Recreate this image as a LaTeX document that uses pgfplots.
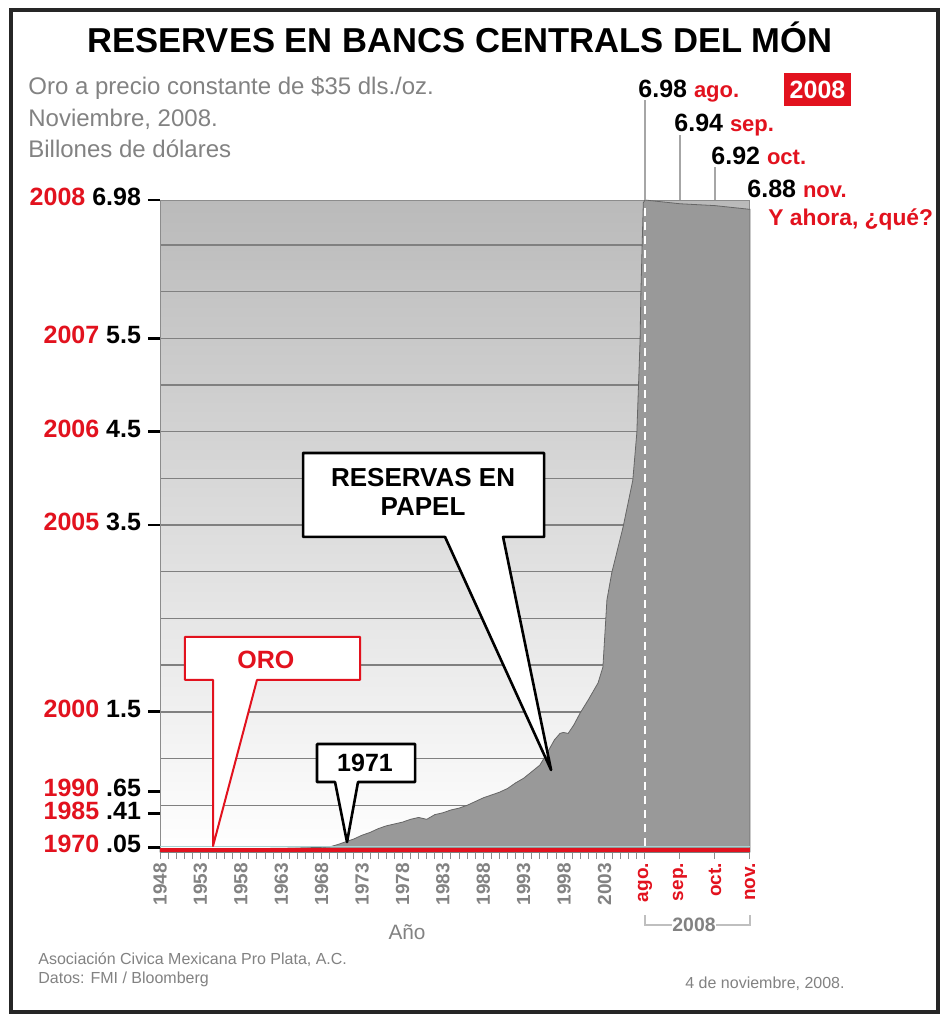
\documentclass[border=0pt]{standalone}
\usepackage{fontspec}
\setmainfont{Liberation Sans}
\usepackage{pgfplots}
\pgfplotsset{compat=1.18}
\definecolor{myred}{RGB}{226,18,30}
\definecolor{txtgray}{RGB}{130,130,130}
\definecolor{areagray}{RGB}{153,153,153}
\newcommand{\fs}[1]{\fontsize{#1}{#1}\selectfont}
\begin{document}
\begin{tikzpicture}[x=0.5pt,y=0.5pt]
\useasboundingbox (0,0) rectangle (950,-1016);
\fill[white] (0,0) rectangle (950,-1016);
\begin{axis}[
  at={(80pt,-426pt)}, anchor=south west,
  width=295pt, height=326pt, scale only axis,
  xmin=0, xmax=73, ymin=0, ymax=6.98,
  clip=false,
  axis background/.style={top color=black!27, bottom color=white},
  axis line style={black!45, line width=0.5pt},
  tick align=outside,
  xtick pos=bottom, ytick pos=left,
  major tick length=6pt, minor tick length=3.5pt,
  ytick={0.05,0.41,0.65,1.5,3.5,4.5,5.5,6.98},
  yticklabels={{\textcolor{myred}{1970} .05},{\textcolor{myred}{1985} .41},{\textcolor{myred}{1990} .65},{\textcolor{myred}{2000} 1.5},{\textcolor{myred}{2005} 3.5},{\textcolor{myred}{2006} 4.5},{\textcolor{myred}{2007} 5.5},{\textcolor{myred}{2008} 6.98}},
  major y tick style={black, line width=1.4pt},
  minor ytick={0.5,1,1.5,2,2.5,3,3.5,4,4.5,5,5.5,6,6.5},
  yminorgrids=true, ymajorgrids=false,
  minor y grid style={black!50, line width=0.7pt},
  minor y tick style={draw=none},
  xtick={0,5,10,15,20,25,30,35,40,45,50,55,60,64.33,68.67,73},
  xticklabels={1948,1953,1958,1963,1968,1973,1978,1983,1988,1993,1998,2003,\textcolor{myred}{ago.},\textcolor{myred}{sep.},\textcolor{myred}{oct.},\textcolor{myred}{nov.}},
  major x tick style={draw=none},
  minor xtick={0,1,...,60,64.33,68.67,73},
  minor x tick style={draw=black!45, line width=0.5pt},
  xticklabel shift=-4pt,
  xticklabel style={rotate=90, anchor=east, font=\bfseries\fs{9.5}, text=txtgray},
  yticklabel style={font=\bfseries\fs{12.5}, anchor=east, yshift=1.5pt},
]
\addplot[fill=areagray, draw=black!60, line width=0.4pt] coordinates {
(0,0.03) (5,0.03) (10,0.035) (15,0.04) (18,0.045) (20,0.05) (21,0.055) (22,0.08) (23,0.11) (24,0.14) (25,0.18) (26,0.21) (27,0.25) (28,0.28) (29,0.30) (30,0.32) (31,0.35) (32,0.37) (33,0.35) (34,0.40) (35,0.42) (36,0.45) (37,0.47) (38,0.50) (39,0.54) (40,0.58) (41,0.61) (42,0.64) (43,0.68) (44,0.74) (45,0.79) (46,0.86) (47,0.93) (47.9,1.06) (48.8,1.20) (49.5,1.27) (49.9,1.28) (50.5,1.27) (51.2,1.36) (52.0,1.49) (53.0,1.63) (54.2,1.81) (54.8,1.98) (55.3,2.70) (55.9,2.99) (57.3,3.48) (58.5,3.98) (59.0,4.49) (59.2,4.98) (59.4,5.48) (59.5,5.98) (59.65,6.48) (59.8,6.95) (60,6.98) (64.33,6.94) (68.67,6.92) (73,6.88)
} \closedcycle;
\addplot[teal!35, line width=0.5pt] coordinates {(0,0.06) (73,0.06)};
\addplot[myred, line width=2pt] coordinates {(0,0.02) (73,0.02)};
\draw[white, line width=1pt, dash pattern=on 4pt off 3pt] (axis cs:60,0.06) -- (axis cs:60,6.95);
% month leader lines
\draw[black!35, line width=0.6pt] (axis cs:60,6.98) -- (axis cs:60,8.05);
\draw[black!35, line width=0.6pt] (axis cs:64.33,6.98) -- (axis cs:64.33,7.68);
\draw[black!35, line width=0.6pt] (axis cs:68.67,6.98) -- (axis cs:68.67,7.33);
% callout ORO
\draw[myred, line width=1pt, fill=white, line join=round] (axis cs:3.09,2.302) -- (axis cs:24.75,2.302) -- (axis cs:24.75,1.842) -- (axis cs:12.0,1.842) -- (axis cs:6.56,0.064) -- (axis cs:6.56,1.842) -- (axis cs:3.09,1.842) -- cycle;
\node[text=myred, font=\bfseries\fs{12.5}] at (axis cs:13.1,2.056) {ORO};
% callout 1971
\draw[black, line width=1.3pt, fill=white, line join=round] (axis cs:19.43,1.156) -- (axis cs:31.56,1.156) -- (axis cs:31.56,0.749) -- (axis cs:24.5,0.749) -- (axis cs:23.14,0.107) -- (axis cs:21.66,0.749) -- (axis cs:19.43,0.749) -- cycle;
\node[font=\bfseries\fs{12.5}] at (axis cs:25.37,0.953) {1971};
% callout RESERVAS
\draw[black, line width=1.3pt, fill=white, line join=round] (axis cs:17.70,4.272) -- (axis cs:47.52,4.272) -- (axis cs:47.52,3.373) -- (axis cs:42.45,3.373) -- (axis cs:48.39,0.878) -- (axis cs:35.27,3.373) -- (axis cs:17.70,3.373) -- cycle;
\node[font=\bfseries\fs{13}, align=center] at (axis cs:32.55,3.854) {RESERVAS EN\\[1.5pt]PAPEL};
\end{axis}
% title
\node[font=\bfseries\fs{17.3}, anchor=base] at (460,-53) {RESERVES EN BANCS CENTRALS DEL MÓN};
% subtitle
\node[anchor=base west, text=txtgray, font=\fs{12}, inner sep=0] at (28,-95) {Oro a precio constante de \$35 dls./oz.};
\node[anchor=base west, text=txtgray, font=\fs{12}, inner sep=0] at (28,-127) {Noviembre, 2008.};
\node[anchor=base west, text=txtgray, font=\fs{12}, inner sep=0] at (28,-158) {Billones de dólares};
% top right labels
\node[anchor=base west, inner sep=0] at (638,-98) {\bfseries\fs{12.5}6.98 \textcolor{myred}{\fs{11}ago.}};
\node[anchor=base west, inner sep=0] at (674,-132) {\bfseries\fs{12.5}6.94 \textcolor{myred}{\fs{11}sep.}};
\node[anchor=base west, inner sep=0] at (711,-165) {\bfseries\fs{12.5}6.92 \textcolor{myred}{\fs{11}oct.}};
\node[anchor=base west, inner sep=0] at (747,-198) {\bfseries\fs{12.5}6.88 \textcolor{myred}{\fs{11}nov.}};
\node[fill=myred, text=white, font=\bfseries\fs{12.5}, minimum width=33.5pt, minimum height=16.5pt, inner sep=0] at (817.5,-89.5) {2008};
\node[anchor=base west, text=myred, font=\bfseries\fs{11.4}, inner sep=0] at (768,-226) {Y ahora, ¿qué?};
% x label and bracket
\node[text=txtgray, font=\fs{10.4}] at (407,-932) {Año};
\draw[black!25, line width=0.6pt] (645,-915) -- (645,-925) -- (672,-925);
\draw[black!25, line width=0.6pt] (716,-925) -- (750,-925) -- (750,-915);
\node[text=txtgray, font=\bfseries\fs{9.7}] at (694,-925) {2008};
% footer
\node[anchor=base west, text=txtgray, font=\fs{8}, inner sep=0] at (38,-964) {Asociación Civica Mexicana Pro Plata, A.C.};
\node[anchor=base west, text=txtgray, font=\fs{8}, inner sep=0] at (38,-983) {Datos: FMI / Bloomberg};
\node[anchor=base east, text=txtgray, font=\fs{8}, inner sep=0] at (845,-988) {4 de noviembre, 2008.};
% frame
\draw[line width=2pt, black!85] (11,-10) rectangle (938,-1012);
\end{tikzpicture}
\end{document}
